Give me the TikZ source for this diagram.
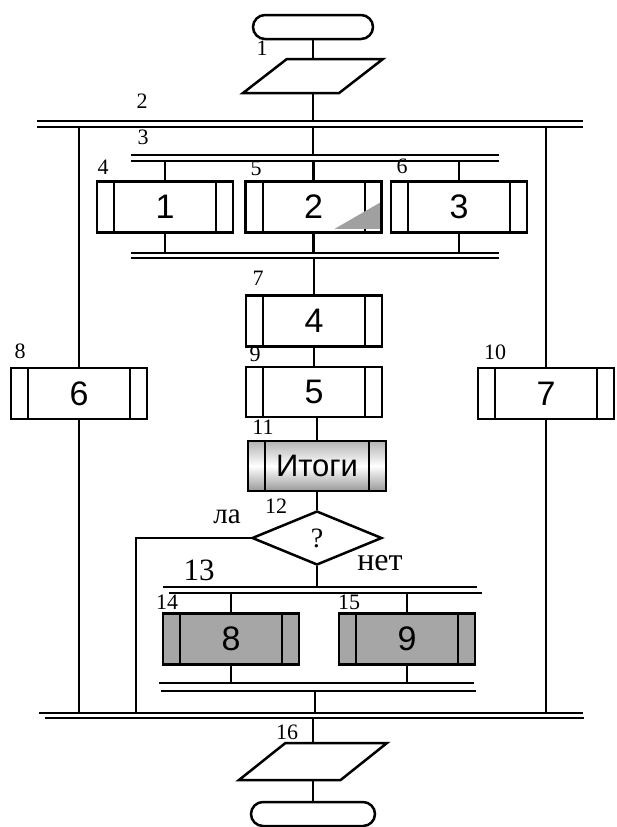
\documentclass[tikz,border=0pt]{standalone}
\usepackage{fontspec}
\setmainfont{Liberation Serif}
\newfontfamily\boxfont{Liberation Sans}
\usetikzlibrary{shapes.geometric, shapes.misc}

\definecolor{fillgray}{RGB}{166,166,166}
\definecolor{trigray}{RGB}{160,160,160}

\tikzset{
  term/.style={draw, rounded rectangle, minimum width=120pt, minimum height=24pt, inner sep=0pt},
  io/.style={draw, trapezium, trapezium left angle=50, trapezium right angle=130,
    trapezium stretches=true, minimum width=140pt, minimum height=34pt, inner sep=1pt},
  proc/.style={draw, rectangle, minimum width=136pt, minimum height=51pt, inner sep=0pt,
    font=\boxfont\fontsize{34}{38}\selectfont,
    path picture={\draw[line width=2pt]
      ([xshift=17pt]path picture bounding box.north west) -- ([xshift=17pt]path picture bounding box.south west)
      ([xshift=-17pt]path picture bounding box.north east) -- ([xshift=-17pt]path picture bounding box.south east);}},
  decide/.style={draw, diamond, minimum width=130pt, minimum height=54pt, inner sep=0pt,
    font=\fontsize{28}{30}\selectfont},
  num/.style={font=\fontsize{22}{24}\selectfont, inner sep=0pt},
}

\begin{document}
\begin{tikzpicture}[x=1pt, y=-1pt, line width=2.5pt]
  \useasboundingbox (0,0) rectangle (616,827);

  % terminals and input/output
  \node[term] (start) at (313,27) {};
  \node[io] (in1) at (313,76) {};
  \node[io, minimum width=148pt, minimum height=37pt] (out) at (313,761.5) {};
  \node[term, minimum width=124pt] (stop) at (313,814) {};

  % bars
  \coordinate (s2a) at (313,121);  \coordinate (s2b) at (313,127);
  \coordinate (s3a) at (313,155);  \coordinate (s3b) at (313,161);
  \coordinate (s4a) at (313,253);  \coordinate (s4b) at (313,258);
  \coordinate (s13a) at (317,587); \coordinate (s13b) at (317,593);
  \coordinate (s14a) at (315,683); \coordinate (s14b) at (315,691);
  \coordinate (s16a) at (315,713); \coordinate (s16b) at (315,718);
  \coordinate (yesend) at (136,712);
  \draw (37,121) -- (583,121) (37,127) -- (583,127);
  \draw (131,155) -- (499,155) (131,161) -- (499,161);
  \draw (131,253) -- (499,253) (131,258) -- (499,258);
  \draw (163,587) -- (477,587) (169,593) -- (482,593);
  \draw (159,683) -- (474,683) (161,691) -- (476,691);
  \draw (39,713) -- (583,713) (45,718) -- (584,718);

  % blocks
  \node[proc] (b1) at (165,207) {1};
  \node[proc] (b2) at (313.5,207) {2};
  \node[proc] (b3) at (459,207) {3};
  \node[proc] (b4) at (314,321) {4};
  \node[proc, minimum height=50pt] (b5) at (314,392) {5};
  \node[proc] (b6) at (79,393.5) {6};
  \node[proc] (b7) at (546,393.5) {7};
  \node[proc, minimum width=138pt, minimum height=50pt, font=\boxfont\fontsize{31}{34}\selectfont,
    top color=gray!60, bottom color=gray!80, middle color=white] (tot) at (317,466) {Итоги};
  \node[decide] (dec) at (317,538) {?};
  \node[proc, fill=fillgray] (b8) at (231,639) {8};
  \node[proc, fill=fillgray] (b9) at (407,639) {9};
  \fill[trigray] ([shift={(-48pt,5pt)}]b2.south east) -- ([shift={(-3pt,5pt)}]b2.south east)
    -- ([shift={(-3pt,31pt)}]b2.south east) -- cycle;

  % connectors
  \draw (start) -- (in1);
  \draw (in1) -- (s2a);
  \draw (s2b) -- (s3a);
  \foreach \b in {b1,b2,b3} {
    \draw (\b |- s3b) -- (\b);
    \draw (\b) -- (\b |- s4a);
  }
  \draw (b4 |- s4b) -- (b4);
  \draw (b4) -- (b5);
  \draw (tot |- b5.south) -- (tot);
  \draw (tot) -- (dec);
  \draw (dec.west) -| (yesend);
  \draw (dec) -- (s13a);
  \foreach \b in {b8,b9} {
    \draw (\b |- s13b) -- (\b);
    \draw (\b) -- (\b |- s14a);
  }
  \draw (s14b) -- (s16a);
  \draw (b6 |- s2b) -- (b6);
  \draw (b6) -- (b6 |- s16a);
  \draw (b7 |- s2b) -- (b7);
  \draw (b7) -- (b7 |- s16a);
  \draw (out |- s16b) -- (out);
  \draw (out) -- (stop);

  % labels
  \node[num] (n1) at (262,48) {1};
  \node[num] (n2) at (142,101) {2};
  \node[num] (n3) at (143,137) {3};
  \node[num] (n4) at (103,167) {4};
  \node[num] (n5) at (256,168) {5};
  \node[num] (n6) at (402,166) {6};
  \node[num] (n7) at (258,278) {7};
  \node[num] (n8) at (20,351) {8};
  \node[num] (n9) at (255,354) {9};
  \node[num] (n10) at (495,352) {10};
  \node[num] (n11) at (263,427) {11};
  \node[num] (n12) at (276,506) {12};
  \node[num, font=\fontsize{31}{33}\selectfont] (n13) at (199,570) {13};
  \node[num] (n14) at (167,602) {14};
  \node[num] (n15) at (349,602) {15};
  \node[num] (n16) at (287,732) {16};
  \node[num, font=\fontsize{29}{31}\selectfont] (yes) at (227,517) {ла};
  \node[num, font=\fontsize{32}{34}\selectfont] (no) at (380,563) {нет};
\end{tikzpicture}
\end{document}
